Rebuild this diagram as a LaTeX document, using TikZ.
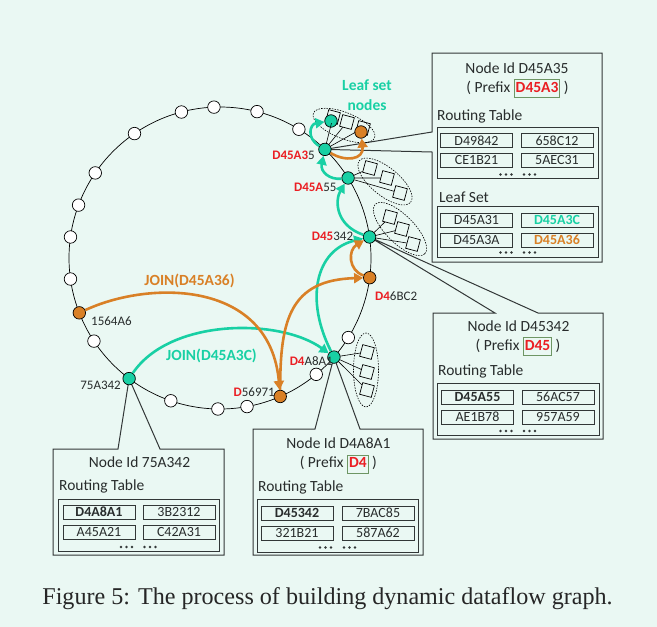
\documentclass[tikz,border=0pt]{standalone}
\usepackage{fontspec}
\setmainfont{Carlito}
\newfontfamily\capfont{Liberation Serif}
\usetikzlibrary{arrows.meta}
\definecolor{bgmint}{RGB}{234,248,243}
\definecolor{nodeteal}{RGB}{24,208,164}
\definecolor{nodeorange}{RGB}{217,128,38}
\definecolor{labred}{RGB}{235,30,35}
\definecolor{labdark}{RGB}{40,44,44}
\definecolor{boxgray}{RGB}{50,55,55}
\definecolor{prefixgreen}{RGB}{110,150,100}
\pgfdeclarelayer{background}
\pgfsetlayers{background,main}
\newcommand{\prefixbox}[1]{{\setlength\fboxsep{1pt}\setlength\fboxrule{0.9pt}%
  \fcolorbox{prefixgreen}{bgmint}{\rule[-4pt]{0pt}{15pt}\textcolor{labred}{\textbf{#1}}}}}
\tikzset{
  ringnode/.style={circle, draw=black, line width=0.7pt, minimum size=12.5pt, inner sep=0pt, fill=white},
  tealnode/.style={ringnode, fill=nodeteal},
  orangenode/.style={ringnode, fill=nodeorange},
  leafsq/.style={draw=black, line width=0.7pt, minimum size=12pt, inner sep=0pt, rotate=-15},
  leafring/.style={draw=black, line width=0.6pt, dash pattern=on 1.5pt off 1.2pt},
  lbl/.style={font=\fontsize{13}{15}\selectfont, text=labdark, inner sep=0pt},
  joinlbl/.style={font=\fontsize{15.5}{18}\selectfont\bfseries, inner sep=0pt},
  tealarrow/.style={draw=nodeteal, line width=2.6pt, -{Triangle[length=9pt,width=10pt]}},
  orangearrow/.style={draw=nodeorange, line width=2.6pt, -{Triangle[length=9pt,width=10pt]}},
  boxline/.style={draw=boxgray, line width=1pt},
  cell/.style={draw=boxgray, line width=1pt, minimum width=72pt, minimum height=14pt, inner sep=0pt, text=labdark, font=\fontsize{14}{14}\selectfont},
  boxtitle/.style={font=\fontsize{15.5}{17}\selectfont, text=labdark, inner sep=0pt},
}
\begin{document}
\begin{tikzpicture}[x=1pt, y=-1pt]
  \useasboundingbox (0,0) rectangle (657,627);
  % ring centre and radius
  \def\cx{220}
  \def\cy{258}
  \def\rr{151}
  \begin{scope}[shift={(\cx,\cy)}]
    % empty slots on the ring
    \foreach \a [count=\i] in {-58.5,-75.8,-92.3,-104.8,-124.5,-145.7,-159.5,-172,172,146.6,109,90.8,79.7,50.4,31.8}
      \node[ringnode] (e\i) at (\a:\rr) {};
    % nodes on the join path
    \node[tealnode] (d45a35) at (-46:\rr) {};
    \node[tealnode] (d45a55) at (-32:\rr) {};
    \node[tealnode] (d45342) at (-8:\rr) {};
    \node[orangenode] (d46bc2) at (7.5:\rr) {};
    \node[tealnode] (d4a8a1) at (41:\rr) {};
    \node[orangenode] (d56971) at (66.5:\rr) {};
    \node[tealnode] (n75a342) at (127:\rr) {};
    \node[orangenode] (n1564a6) at (158.7:\rr) {};
  \end{scope}

  % leaf sets
  \node[leafsq] (la1) at (333,117) {};
  \node[leafsq] (la2) at (347,122) {};
  \node[leafsq] (la3) at (363,128) {};
  \node[tealnode] (leafteal) at (331,121) {};
  \node[orangenode] (leaforange) at (361,132) {};
  \draw[leafring, rotate around={-22:(344,125.5)}] (344,125.5) ellipse [x radius=33pt, y radius=13pt];
  \node[leafsq] (lb1) at (370,168) {};
  \node[leafsq] (lb2) at (387,178) {};
  \node[leafsq] (lb3) at (400,193) {};
  \draw[leafring, rotate around={-39:(385,181.5)}] (385,181.5) ellipse [x radius=33pt, y radius=14pt];
  \node[leafsq] (lc1) at (390,217) {};
  \node[leafsq] (lc2) at (402,229) {};
  \node[leafsq] (lc3) at (413,244) {};
  \draw[leafring, rotate around={-45:(400,229)}] (400,229) ellipse [x radius=35pt, y radius=14pt];
  \node[leafsq] (ld1) at (367,352) {};
  \node[leafsq] (ld2) at (367,372) {};
  \node[leafsq] (ld3) at (367,390) {};
  \draw[leafring] (366,370) ellipse [x radius=12.5pt, y radius=37pt];
  \foreach \s in {la1,la2,la3} \draw[line width=0.6pt] (d45a35) -- (\s);
  \foreach \s in {lb1,lb2,lb3} \draw[line width=0.6pt] (d45a55) -- (\s);
  \foreach \s in {lc1,lc2,lc3} \draw[line width=0.6pt] (d45342) -- (\s);
  \foreach \s in {ld1,ld2,ld3} \draw[line width=0.6pt] (d4a8a1) -- (\s);

  % ring ids
  \node[lbl, anchor=base east] (t45a35) at (315,159.3) {\textcolor{labred}{\textbf{D45A3}}5};
  \node[lbl, anchor=base east] (t45a55) at (336.7,191.7) {\textcolor{labred}{\textbf{D45A}}55};
  \node[lbl, anchor=base east] (t45342) at (353.3,240.7) {\textcolor{labred}{\textbf{D45}}342};
  \node[lbl, anchor=base west] (t46bc2) at (375,300.7) {\textcolor{labred}{\textbf{D4}}6BC2};
  \node[lbl, anchor=base east] (t4a8a1) at (333,365) {\textcolor{labred}{\textbf{D4}}A8A1};
  \node[lbl, anchor=base east] (t56971) at (275,396.7) {\textcolor{labred}{\textbf{D}}56971};
  \node[lbl, anchor=base east] (t75a342) at (121,389.3) {75A342};
  \node[lbl, anchor=base west] (t1564a6) at (91,325.3) {1564A6};
  \node[joinlbl, text=nodeorange, anchor=base] (joina) at (189.5,285.3) {JOIN(D45A36)};
  \node[joinlbl, text=nodeteal, anchor=base] (joinb) at (211.5,360.3) {JOIN(D45A3C)};
  \node[joinlbl, text=nodeteal, anchor=base, align=center] (leaflbl) at (367,90.7) {Leaf set};
  \node[joinlbl, text=nodeteal, anchor=base] (leaflbl2) at (367,110) {nodes};

  % join messages
  \draw[tealarrow] (n75a342) .. controls (170,318) and (280,318) .. (d4a8a1);
  \draw[tealarrow] (d4a8a1) .. controls (305,300) and (315,250) .. (d45342);
  \draw[tealarrow] (d45342) .. controls (335,225) and (335,200) .. (d45a55);
  \draw[tealarrow] (d45a55) .. controls (330,180) and (320,172) .. (d45a35);
  \draw[tealarrow] (d45a35) .. controls (306,138) and (310,124) .. (leafteal);
  \draw[orangearrow] (n1564a6) .. controls (150,280) and (270,280) .. (d56971);
  \draw[orangearrow] (d56971) .. controls (280,320) and (290,280) .. (d46bc2);
  \draw[orangearrow] (d46bc2) .. controls (348,270) and (348,250) .. (d45342);
  \draw[orangearrow] (d45a35) .. controls (345,162) and (364,160) .. (leaforange);

  % box of D45A35
  \node[boxtitle, anchor=base] (ha) at (517,73.3) {Node Id D45A35};
  \node[boxtitle, anchor=base] (pa) at (517.5,92.3) {( Prefix \prefixbox{D45A3} )};
  \node[boxtitle, anchor=base west] (rta) at (437,120) {Routing Table};
  \node[boxtitle, anchor=base west] (lsa) at (439,202) {Leaf Set};
  \node[cell] (ra1) at (476.5,140.5) {D49842};
  \node[cell] (ra2) at (557,140.5) {658C12};
  \node[cell] (ra3) at (476.5,160.5) {CE1B21};
  \node[cell] (ra4) at (557,160.5) {5AEC31};
  \node[cell] (sa1) at (476.5,220) {D45A31};
  \node[cell] (sa2) at (557,220) {\textcolor{nodeteal}{\textbf{D45A3C}}};
  \node[cell] (sa3) at (476.5,240) {D45A3A};
  \node[cell] (sa4) at (557,240) {\textcolor{nodeorange}{\textbf{D45A36}}};
  \draw[boxline] (437,127) rectangle (598,178);
  \draw[boxline] (437,206) rectangle (598,257);
  \foreach \x in {500.5,506,511.5,524,529.5,535} {
    \fill[boxgray] (\x,174.5) circle[radius=1.3pt];
    \fill[boxgray] (\x,252.5) circle[radius=1.3pt];
  }

  % box of D45342
  \node[boxtitle, anchor=base] (hb) at (518.5,331) {Node Id D45342};
  \node[boxtitle, anchor=base] (pb) at (518,350) {( Prefix \prefixbox{D45} )};
  \node[boxtitle, anchor=base west] (rtb) at (438,375) {Routing Table};
  \node[cell] (rb1) at (477.5,397) {\textbf{D45A55}};
  \node[cell] (rb2) at (558,397) {56AC57};
  \node[cell] (rb3) at (477.5,417) {AE1B78};
  \node[cell] (rb4) at (558,417) {957A59};
  \draw[boxline] (437,383) rectangle (599,435);
  \foreach \x in {500.5,506,511.5,524,529.5,535}
    \fill[boxgray] (\x,431) circle[radius=1.3pt];

  % box of 75A342
  \node[boxtitle, anchor=base] (hc) at (139.5,467.7) {Node Id 75A342};
  \node[boxtitle, anchor=base west] (rtc) at (59,490.7) {Routing Table};
  \node[cell] (rc1) at (99,512) {\textbf{D4A8A1}};
  \node[cell] (rc2) at (179,512) {3B2312};
  \node[cell] (rc3) at (99,532) {A45A21};
  \node[cell] (rc4) at (179,532) {C42A31};
  \draw[boxline] (58,499) rectangle (219,551);
  \foreach \x in {121,126.5,132,144.5,150,155.5}
    \fill[boxgray] (\x,547) circle[radius=1.3pt];

  % box of D4A8A1
  \node[boxtitle, anchor=base] (hd) at (338.5,448) {Node Id D4A8A1};
  \node[boxtitle, anchor=base] (pd) at (338.3,467.7) {( Prefix \prefixbox{D4} )};
  \node[boxtitle, anchor=base west] (rtd) at (258,491) {Routing Table};
  \node[cell] (rd1) at (297,513) {\textbf{D45342}};
  \node[cell] (rd2) at (378,513) {7BAC85};
  \node[cell] (rd3) at (297,533) {321B21};
  \node[cell] (rd4) at (378,533) {587A62};
  \draw[boxline] (257,499) rectangle (418,552);
  \foreach \x in {320,325.5,331,344,349.5,355}
    \fill[boxgray] (\x,547.5) circle[radius=1.3pt];

  \node[font=\capfont\fontsize{24.1}{28}\selectfont, text=black!85, anchor=base, inner sep=0pt] (caption) at (327.5,604) {Figure 5: The process of building dynamic dataflow graph.};

  \begin{pgfonlayer}{background}
    \fill[bgmint] (0,0) rectangle (657,627);
    \draw[line width=0.7pt] (\cx,\cy) circle[radius=151pt];
    % callout boxes
    \draw[boxline] (432,53) -- (602,53) -- (602,262) -- (432,262) -- (432,152) -- (d45a35.center) -- (432,132) -- cycle;
    \draw[boxline] (433,313) -- (495,313) -- (d45342.center) -- (538,313) -- (603,313) -- (603,439) -- (433,439) -- cycle;
    \draw[boxline] (253,429) -- (315,429) -- (d4a8a1.center) -- (360,429) -- (423,429) -- (423,555) -- (253,555) -- cycle;
    \draw[boxline] (53,449) -- (118,449) -- (n75a342.center) -- (160,449) -- (224,449) -- (224,555) -- (53,555) -- cycle;
  \end{pgfonlayer}
\end{tikzpicture}
\end{document}
